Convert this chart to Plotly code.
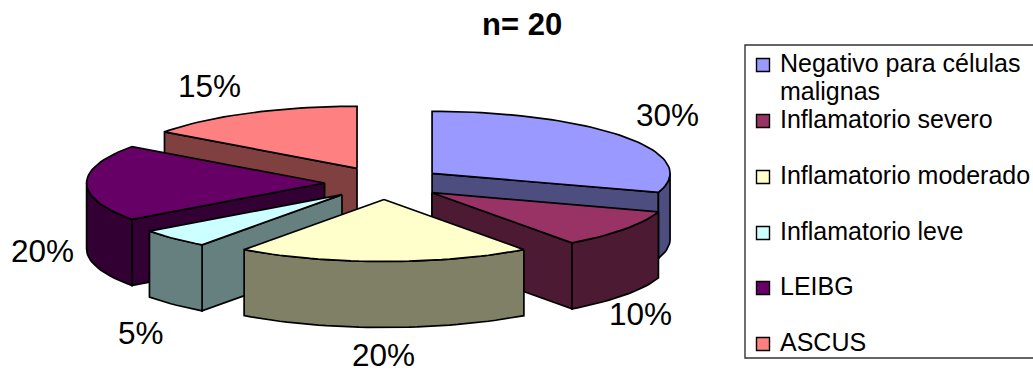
import math
import plotly.graph_objects as go

# Chart content
TITLE = "n= 20"
categories = [
    "Negativo para células<br>malignas",
    "Inflamatorio severo",
    "Inflamatorio moderado",
    "Inflamatorio leve",
    "LEIBG",
    "ASCUS",
]
percentages = [30, 10, 20, 5, 20, 15]
top_colors = ["#9999FF", "#993366", "#FFFFCC", "#CCFFFF", "#660066", "#FF8080"]
wall_colors = ["#4D4D80", "#4D1A33", "#808066", "#668080", "#330033", "#804040"]

# Pie projection, in axis units (the axes map 1:1 onto the 1033x370 canvas)
CENTER_X, CENTER_Y = 384, 183
RADIUS_X, RADIUS_Y = 238, 62
EXPLODE_X, EXPLODE_Y = 59.4, 16.5
DEPTH = 66
EDGE = dict(color="#000000", width=1.7)
FONT = "Liberation Sans, Arial, sans-serif"

# Percent label centres, one per slice
label_x = [667, 640, 383, 141, 42, 209]
label_y = [115, 314, 355, 333, 251, 86]

# Legend layout
LEGEND_LEFT, LEGEND_TOP, LEGEND_BOTTOM = 745, 45, 358
swatch_x = 763
swatch_y = [65, 121, 177, 233, 288, 344]
legend_text_x = 777.5
LINE_STEP = 28


def rim_point(apex, degrees, drop=0):
    rad = math.radians(degrees)
    return (apex[0] + RADIUS_X * math.sin(rad),
            apex[1] - RADIUS_Y * math.cos(rad) + drop)


def arc(apex, start, end, drop=0):
    steps = max(2, int(abs(end - start) / 2))
    return [rim_point(apex, start + (end - start) * i / steps, drop)
            for i in range(steps + 1)]


def polygon(points, color):
    xs = [p[0] for p in points] + [points[0][0]]
    ys = [p[1] for p in points] + [points[0][1]]
    return go.Scatter(x=xs, y=ys, mode="lines", fill="toself", fillcolor=color,
                      line=EDGE, showlegend=False, hoverinfo="skip")


# Turn the percentages into slices, each pushed out along its bisector
total = sum(percentages)
slices = []
running = 0.0
for i, value in enumerate(percentages):
    start = running
    running += 360.0 * value / total
    mid = math.radians((start + running) / 2)
    apex = (CENTER_X + EXPLODE_X * math.sin(mid),
            CENTER_Y - EXPLODE_Y * math.cos(mid))
    slices.append(dict(index=i, start=start, end=running, mid=mid, apex=apex))

fig = go.Figure()

# Paint from the back of the pie to the front
for s in sorted(slices, key=lambda item: -math.cos(item["mid"])):
    apex, start, end = s["apex"], s["start"], s["end"]
    wall = wall_colors[s["index"]]
    low_apex = (apex[0], apex[1] + DEPTH)

    for cut in (start, end):
        facing = math.sin(math.radians(cut)) < 0 if cut == start else math.sin(math.radians(cut)) > 0
        if facing:
            fig.add_trace(polygon([apex, rim_point(apex, cut),
                                   rim_point(apex, cut, DEPTH), low_apex], wall))

    front_start, front_end = max(start, 90), min(end, 270)
    if front_start < front_end:
        fig.add_trace(polygon(arc(apex, front_start, front_end)
                              + arc(apex, front_end, front_start, DEPTH), wall))

    fig.add_trace(polygon([apex] + arc(apex, start, end), top_colors[s["index"]]))

# Legend swatches
fig.add_trace(go.Scatter(
    x=[swatch_x] * len(categories), y=swatch_y, mode="markers",
    marker=dict(symbol="square", size=13, color=top_colors,
                line=dict(color="#000000", width=1.4)),
    showlegend=False, hoverinfo="skip"))

annotations = [dict(x=522, y=24, text=f"<b>{TITLE}</b>", font=dict(size=31))]
for value, x, y in zip(percentages, label_x, label_y):
    annotations.append(dict(x=x, y=y, text=f"{value}%", font=dict(size=31.5)))
for name, y in zip(categories, swatch_y):
    for n, line in enumerate(name.split("<br>")):
        annotations.append(dict(x=legend_text_x, y=y - 2 + n * LINE_STEP, text=line,
                                xanchor="left", font=dict(size=25)))
for a in annotations:
    a.update(xref="x", yref="y", showarrow=False)
    a.setdefault("xanchor", "center")
    a["yanchor"] = "middle"
    a["font"].update(family=FONT, color="#000000")

fig.update_layout(
    width=1033, height=370,
    margin=dict(l=0, r=0, t=0, b=0),
    paper_bgcolor="#FFFFFF", plot_bgcolor="#FFFFFF",
    xaxis=dict(range=[0, 1033], visible=False, fixedrange=True),
    yaxis=dict(range=[370, 0], visible=False, fixedrange=True),
    annotations=annotations,
    shapes=[dict(type="rect", xref="x", yref="y", layer="below",
                 x0=LEGEND_LEFT, x1=1045, y0=LEGEND_TOP, y1=LEGEND_BOTTOM,
                 line=dict(color="#333333", width=1.4))],
)

fig.write_html("out.html", config=dict(displayModeBar=False))
